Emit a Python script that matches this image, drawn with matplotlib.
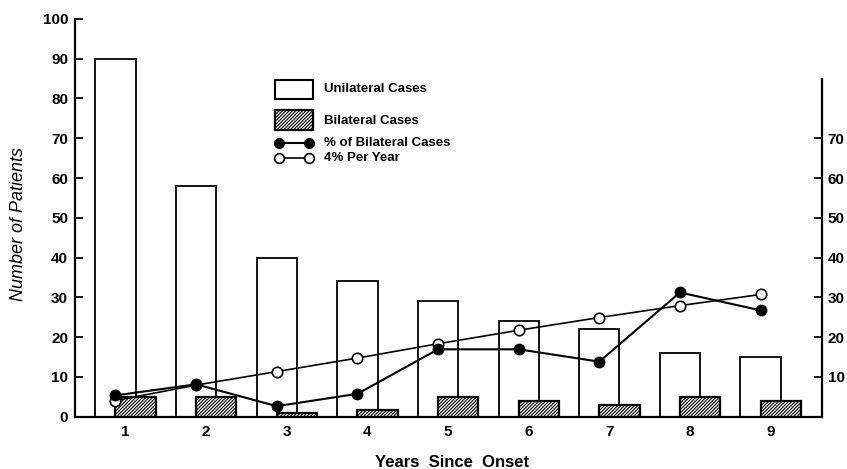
import matplotlib
matplotlib.use("Agg")
import matplotlib.pyplot as plt
from matplotlib.patches import Rectangle
from matplotlib.lines import Line2D

# data
years = [1, 2, 3, 4, 5, 6, 7, 8, 9]
unilateral = [90, 58, 40, 34, 29, 24, 22, 16, 15]
bilateral = [4.8, 4.8, 1.0, 1.6, 4.9, 4.0, 2.8, 5.0, 3.9]
pct_bilateral = [5.3, 8.1, 2.6, 5.7, 16.9, 16.9, 13.8, 31.2, 26.7]
four_pct = [4.0, 7.9, 11.3, 14.7, 18.3, 21.7, 24.9, 27.9, 30.7]
right_ticks = [10, 20, 30, 40, 50, 60, 70]

plt.rcParams['font.family'] = ['Liberation Sans', 'DejaVu Sans']
plt.rcParams['hatch.linewidth'] = 0.8

W, H = 847, 469
fig = plt.figure(figsize=(W / 100, H / 100), dpi=100)
ax = fig.add_axes([75 / W, 1 - 416.5 / H, (822 - 75) / W, (416.5 - 19) / H])

x = [y - 0.125 for y in years]
xb = [y + 0.125 for y in years]

ax.bar(x, unilateral, width=0.5, facecolor='white', edgecolor='black', linewidth=1.3, zorder=2)
ax.bar(xb, bilateral, width=0.5, facecolor='white', edgecolor='black', linewidth=1.6,
       hatch='//////////', zorder=3)

ax.plot(x, four_pct, color='black', lw=1.2, marker='o', ms=7.5, mfc='white', mec='black',
        mew=1.2, zorder=5)
ax.plot(x, pct_bilateral, color='black', lw=1.5, marker='o', ms=7.5, mfc='black', mec='black',
        zorder=6)

ax.set_xlim(0.374, 9.636)
ax.set_ylim(0, 100)
ax.set_yticks(range(0, 101, 10))
ax.set_xticks(years)
ax.tick_params(axis='x', length=0, pad=6, labelsize=11)
ax.tick_params(axis='y', direction='in', length=6, width=1.3, labelsize=11, pad=5)
for lbl in ax.get_xticklabels() + ax.get_yticklabels():
    lbl.set_fontweight('bold')
ax.spines['top'].set_visible(False)
ax.spines['right'].set_visible(False)
for s in ['left', 'bottom']:
    ax.spines[s].set_linewidth(1.6)

ax2 = ax.twinx()
ax2.set_ylim(0, 100)
ax2.spines['right'].set_bounds(0, 85)
ax2.spines['right'].set_linewidth(1.6)
for s in ['top', 'left', 'bottom']:
    ax2.spines[s].set_visible(False)
ax2.set_yticks(right_ticks)
ax2.tick_params(axis='y', direction='in', length=6, width=1.3, labelsize=11, pad=4)
for lbl in ax2.get_yticklabels():
    lbl.set_fontweight('bold')

ax.set_ylabel('Number of Patients', fontsize=13, style='italic')
ax.yaxis.set_label_coords((27 - 75) / 747, 0.484)
fig.text(452 / W, 1 - 462 / H, 'Years  Since  Onset', ha='center', va='center',
         fontsize=12, fontweight='bold')

# legend drawn by hand
def fx(px):
    return px / W

def fy(py):
    return 1 - py / H

fig.patches.append(Rectangle((fx(275), fy(99)), 38 / W, 19 / H, transform=fig.transFigure,
                             facecolor='white', edgecolor='black', lw=1.5))
fig.patches.append(Rectangle((fx(275), fy(130)), 38 / W, 20 / H, transform=fig.transFigure,
                             facecolor='white', edgecolor='black', lw=1.6, hatch='//////////'))
fig.lines.append(Line2D([fx(279), fx(309)], [fy(143), fy(143)], transform=fig.transFigure,
                        color='black', lw=1.5, marker='o', ms=7, mfc='black'))
fig.lines.append(Line2D([fx(279), fx(309)], [fy(158), fy(158)], transform=fig.transFigure,
                        color='black', lw=1.2, marker='o', ms=7, mfc='white', mew=1.2))
leg_txt = [('Unilateral Cases', 89), ('Bilateral Cases', 121),
           ('% of Bilateral Cases', 143), ('4% Per Year', 158)]
for t, py in leg_txt:
    fig.text(fx(324), fy(py), t, ha='left', va='center', fontsize=9.5, fontweight='bold')

fig.savefig('out.png', dpi=100)
